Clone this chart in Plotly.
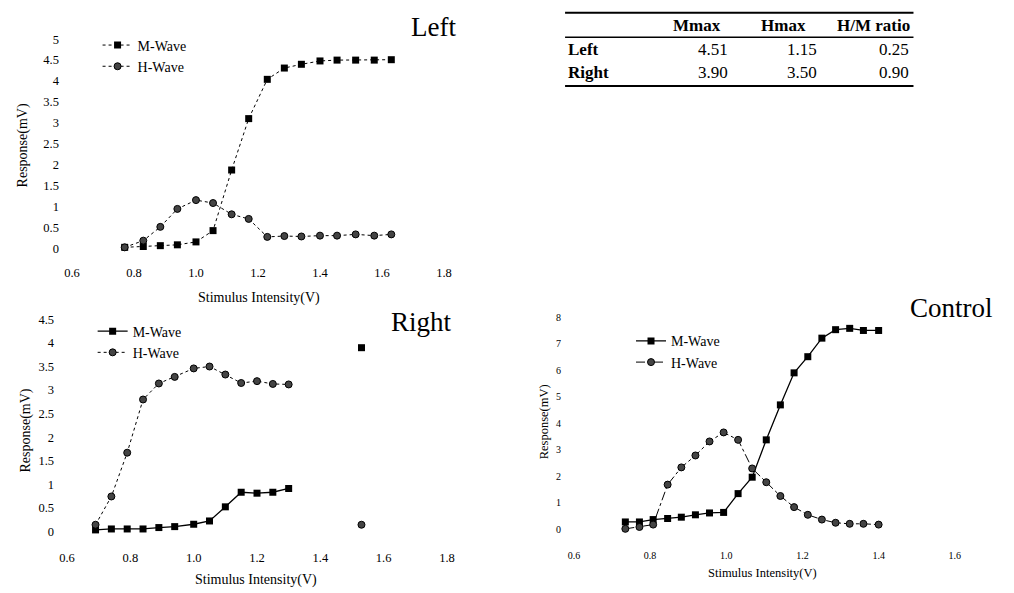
import plotly.graph_objects as go

W, H = 1014, 593

# ---------------- data ----------------
left_x = [0.77, 0.83, 0.885, 0.94, 1.0, 1.055, 1.115, 1.17, 1.23, 1.285, 1.34, 1.4, 1.455, 1.515, 1.575, 1.63]
left_m = [0.02, 0.04, 0.06, 0.08, 0.15, 0.42, 1.87, 3.10, 4.04, 4.31, 4.40, 4.48, 4.50, 4.50, 4.50, 4.51]
left_h = [0.02, 0.18, 0.51, 0.94, 1.15, 1.08, 0.81, 0.70, 0.27, 0.29, 0.28, 0.30, 0.30, 0.33, 0.30, 0.33]

right_x = [0.69, 0.74, 0.79, 0.84, 0.89, 0.94, 1.0, 1.05, 1.1, 1.15, 1.2, 1.25, 1.3]
right_m = [0.03, 0.05, 0.05, 0.05, 0.08, 0.10, 0.15, 0.22, 0.52, 0.83, 0.81, 0.83, 0.91]
right_h = [0.14, 0.74, 1.67, 2.80, 3.14, 3.28, 3.46, 3.50, 3.33, 3.15, 3.19, 3.13, 3.12]
right_extra_x = [1.53]
right_extra_m = [3.90]
right_extra_h = [0.14]

ctrl_x = [0.735, 0.772, 0.808, 0.846, 0.882, 0.919, 0.956, 0.993, 1.031, 1.068,
          1.105, 1.142, 1.178, 1.214, 1.251, 1.287, 1.324, 1.36, 1.40]
ctrl_m = [0.28, 0.28, 0.37, 0.41, 0.46, 0.55, 0.62, 0.64, 1.35, 1.97,
          3.38, 4.70, 5.91, 6.52, 7.22, 7.54, 7.59, 7.51, 7.51]
ctrl_h = [0.02, 0.09, 0.18, 1.69, 2.34, 2.79, 3.32, 3.66, 3.38, 2.30,
          1.78, 1.26, 0.84, 0.55, 0.37, 0.25, 0.21, 0.21, 0.18]

table_cols = ["Mmax", "Hmax", "H/M ratio"]
table_rows = ["Left", "Right"]
table_vals = [["4.51", "1.15", "0.25"], ["3.90", "3.50", "0.90"]]

SERIF = "Liberation Serif, Times New Roman, serif"


def px(x):
    return x / W


def py(y):
    return 1 - y / H


fig = go.Figure()

sq = dict(symbol="square", size=7, color="black")
ci = dict(symbol="circle", size=7, color="#444", line=dict(color="black", width=1))

# Left
fig.add_trace(go.Scatter(x=left_x, y=left_m, mode="lines+markers", name="M-Wave",
                         line=dict(color="black", width=1, dash="dot"), marker=sq,
                         xaxis="x", yaxis="y", legend="legend", cliponaxis=False))
fig.add_trace(go.Scatter(x=left_x, y=left_h, mode="lines+markers", name="H-Wave",
                         line=dict(color="black", width=1, dash="dot"), marker=ci,
                         xaxis="x", yaxis="y", legend="legend", cliponaxis=False))
# Right
fig.add_trace(go.Scatter(x=right_x, y=right_m, mode="lines+markers", name="M-Wave",
                         line=dict(color="black", width=1.3), marker=sq,
                         xaxis="x2", yaxis="y2", legend="legend2", cliponaxis=False))
fig.add_trace(go.Scatter(x=right_x, y=right_h, mode="lines+markers", name="H-Wave",
                         line=dict(color="black", width=1, dash="dot"), marker=ci,
                         xaxis="x2", yaxis="y2", legend="legend2", cliponaxis=False))
fig.add_trace(go.Scatter(x=right_extra_x, y=right_extra_m, mode="markers", marker=sq,
                         showlegend=False, xaxis="x2", yaxis="y2", cliponaxis=False))
fig.add_trace(go.Scatter(x=right_extra_x, y=right_extra_h, mode="markers", marker=ci,
                         showlegend=False, xaxis="x2", yaxis="y2", cliponaxis=False))
# Control
fig.add_trace(go.Scatter(x=ctrl_x, y=ctrl_m, mode="lines+markers", name="M-Wave",
                         line=dict(color="black", width=1.3), marker=sq,
                         xaxis="x3", yaxis="y3", legend="legend3", cliponaxis=False))
fig.add_trace(go.Scatter(x=ctrl_x, y=ctrl_h, mode="lines+markers", name="H-Wave",
                         line=dict(color="black", width=1, dash="dashdot"), marker=ci,
                         xaxis="x3", yaxis="y3", legend="legend3", cliponaxis=False))

tickfont = dict(family=SERIF, size=12.5, color="black")
tickfont_s = dict(family=SERIF, size=10, color="black")


def xax(dom, rng, dt, font, anchor, standoff):
    return dict(domain=dom, range=rng, dtick=dt, tick0=0.6, tickformat=".1f",
                showgrid=False, zeroline=False, showline=False, ticks="",
                tickfont=font, anchor=anchor, ticklabelstandoff=standoff, fixedrange=True)


def yax(dom, rng, dt, font, anchor, standoff):
    return dict(domain=dom, range=rng, dtick=dt, tick0=0,
                showgrid=False, zeroline=False, showline=False, ticks="",
                tickfont=font, anchor=anchor, ticklabelstandoff=standoff, fixedrange=True)


legfont = dict(family=SERIF, size=14, color="black")

fig.update_layout(
    width=W, height=H, margin=dict(l=0, r=0, t=0, b=0),
    paper_bgcolor="white", plot_bgcolor="white", showlegend=True,
    xaxis=xax([px(65), px(443)], [0.6, 1.8], 0.2, tickfont, "y", 15),
    yaxis=yax([py(247), py(33)], [0, 5], 0.5, tickfont, "x", 12),
    xaxis2=xax([px(60), px(446)], [0.6, 1.8], 0.2, tickfont, "y2", 17),
    yaxis2=yax([py(537), py(320)], [0, 4.5], 0.5, tickfont, "x2", 12),
    xaxis3=xax([px(575), px(962)], [0.6, 1.6], 0.2, tickfont_s, "y3", 19),
    yaxis3=yax([py(535), py(318)], [0, 8], 1, tickfont_s, "x3", 12),
    legend=dict(x=px(91), y=py(23), xanchor="left", yanchor="top", font=legfont,
                bgcolor="rgba(0,0,0,0)", tracegroupgap=0, itemwidth=30),
    legend2=dict(x=px(86), y=py(316), xanchor="left", yanchor="top", font=legfont,
                 bgcolor="rgba(0,0,0,0)", tracegroupgap=0, itemwidth=30),
    legend3=dict(x=px(633), y=py(326), xanchor="left", yanchor="top", font=legfont,
                 bgcolor="rgba(0,0,0,0)", tracegroupgap=0, itemwidth=30),
)

ann = []
# panel titles
ann.append(dict(text="Left", x=px(432), y=py(20), font=dict(family=SERIF, size=27, color="black")))
ann.append(dict(text="Right", x=px(420), y=py(323), font=dict(family=SERIF, size=27, color="black")))
ann.append(dict(text="Control", x=px(959), y=py(308), font=dict(family=SERIF, size=27, color="black")))
# axis titles
axf = dict(family=SERIF, size=14, color="black")
axf_s = dict(family=SERIF, size=12.5, color="black")
ann.append(dict(text="Stimulus Intensity(V)", x=px(255), y=py(298), font=axf))
ann.append(dict(text="Response(mV)", x=px(15), y=py(142), textangle=-90, font=axf))
ann.append(dict(text="Stimulus Intensity(V)", x=px(252), y=py(577), yanchor="top", font=axf))
ann.append(dict(text="Response(mV)", x=px(18), y=py(434), textangle=-90, font=axf))
ann.append(dict(text="Stimulus Intensity(V)", x=px(767), y=py(570), yanchor="top", font=axf_s))
ann.append(dict(text="Response(mV)", x=px(545), y=py(425), textangle=-90, font=axf_s))

# table
col_right = [726, 813, 918]
hfont = dict(family=SERIF, size=17, color="black")
vfont = dict(family=SERIF, size=17, color="black")
for c, name in enumerate(table_cols):
    ann.append(dict(text="<b>%s</b>" % name, x=px(col_right[c]), y=py(19), xanchor="right",
                    font=hfont))
row_y = [44, 67]
for r, name in enumerate(table_rows):
    ann.append(dict(text="<b>%s</b>" % name, x=px(567), y=py(row_y[r]), xanchor="left", font=hfont))
    for c, v in enumerate(table_vals[r]):
        vr = [734, 824, 917][c]
        ann.append(dict(text=v, x=px(vr), y=py(row_y[r]), xanchor="right", font=vfont))

for a in ann:
    a.setdefault("xref", "paper")
    a.setdefault("yref", "paper")
    a.setdefault("showarrow", False)
    a.setdefault("xanchor", "center")
    a.setdefault("yanchor", "middle")
fig.update_layout(annotations=ann)

shapes = []
for yy, wd in [(6, 2), (31, 1.5), (81, 2)]:
    shapes.append(dict(type="line", xref="paper", yref="paper", x0=px(566), x1=px(920),
                       y0=py(yy), y1=py(yy), line=dict(color="black", width=wd)))
fig.update_layout(shapes=shapes)

fig.write_html("out.html")
